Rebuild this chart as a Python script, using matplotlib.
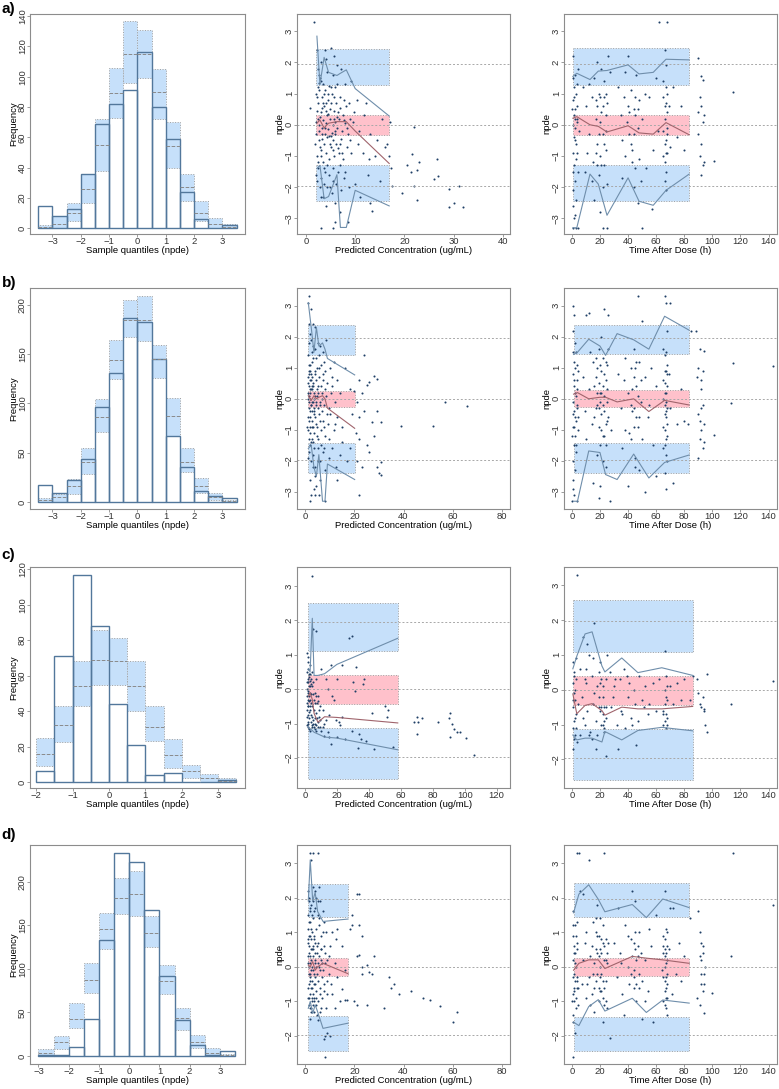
import numpy as np
import matplotlib.pyplot as plt

plt.rcParams['font.family'] = ['Liberation Sans', 'DejaVu Sans']

BLUE = '#c6e0fa'
PINK = '#ffc1cb'
EDGE = '#a0a0a0'
BAR = '#52779b'
DOT = '#1f3f66'
PLINE = '#6f8eab'
MLINE = '#a0646c'

# ---- histogram data (bins of 0.5) ----
a_start = -3.5
a_obs = [15, 8, 13, 36, 69, 82, 91, 116, 80, 59, 24, 6, 0, 2]
a_q05 = [0, 0, 4.6, 17, 38, 73, 96, 99, 72, 40, 18, 5, 0, 0]
a_q50 = [1, 3, 10, 26, 55, 89, 115, 115, 90, 54, 27, 10, 3, 1]
a_q95 = [2.2, 8.3, 16.6, 36, 72, 106, 137, 131, 105, 70, 36, 18, 6.6, 3]

b_start = -3.5
b_obs = [17, 9, 22, 44, 96, 131, 187, 183, 145, 67, 36, 11, 6, 4]
b_q05 = [0, 0, 8, 28, 71, 125, 167, 163, 126, 67, 31, 9, 2, 0]
b_q50 = [2, 5, 16, 41, 86, 144, 185, 185, 145, 87, 41, 16, 5, 1]
b_q95 = [4, 8, 23, 55, 105, 164, 205, 209, 159, 106, 55, 24, 9, 2.3]

c_start = -2.0
c_obs = [6, 71, 117, 88, 44, 21, 4, 5, 0, 0, 1]
c_q05 = [9, 22.7, 43, 55, 54.6, 40, 23, 8, 2, 0, 0]
c_q50 = [16, 32, 54, 69, 68, 54, 31, 15, 6, 2, 0.7]
c_q95 = [24.6, 42.6, 68, 86, 81, 68, 42.6, 24, 9.4, 4.5, 2]

d_start = -3.0
d_obs = [1, 1, 10, 42, 133, 233, 222, 167, 92, 41, 13, 1, 6]
d_q05 = [0, 8, 32, 72, 123, 163, 160, 125, 71.5, 30, 9, 1, 0]
d_q50 = [3, 16, 42, 87.5, 145.6, 181, 186, 141.5, 86, 43, 16, 3.7, 1]
d_q95 = [8, 23, 61, 106.5, 163.5, 204, 212.7, 160, 104, 55, 24, 9.3, 2.6]

# ---- npde vs predictions / time: prediction bands [lo_lo, lo_hi, med_lo, med_hi, hi_lo, hi_hi] ----
a2_bx = [2.1, 16.9]
a2_bands = [-2.45, -1.28, -0.34, 0.32, 1.26, 2.44]
a2_kx = [2.24, 2.85, 3.7, 4.6, 6.3, 7.0, 8.2, 10.0, 16.9]
a2_p95 = [2.84, 1.29, 2.16, 1.68, 1.58, 1.65, 1.76, 1.16, 0.28]
a2_p50 = [0.05, 0.15, -0.1, 0.05, 0.1, 0.1, 0.1, -0.2, -1.24]
a2_p05 = [-1.4, -1.3, -2.37, -2.3, -1.6, -3.29, -3.29, -2.1, -2.6]
a2_pts = [(1.7, 3.3), (2.2, 2.4), (2.5, 1.8), (2.8, 1.5), (3.1, 2.0), (3.4, 1.3), (3.9, 2.4), (4.3, 1.7),
          (5.1, 2.45), (5.6, 1.6), (6.3, 1.9), (7.2, 1.8), (8.0, 1.3), (9.2, 1.4), (2.0, 1.0), (2.4, 0.7),
          (2.7, 1.1), (3.0, 0.4), (3.3, 0.9), (3.6, 0.6), (3.9, 1.1), (4.2, 0.3), (4.5, 0.8), (4.9, 0.5),
          (5.3, 1.0), (5.7, 0.2), (6.1, 0.7), (6.5, 0.4), (7.0, 0.9), (7.5, 0.3), (8.2, 0.6), (9.0, 0.2),
          (10.3, 0.8), (12.2, 0.7), (0.9, 0.55), (2.1, 0.1), (2.6, -0.2), (2.9, 0.25), (3.2, -0.1),
          (3.5, 0.15), (3.8, -0.3), (4.1, 0.05), (4.4, -0.15), (4.8, 0.2), (5.2, -0.25), (5.5, 0.0),
          (5.9, 0.1), (6.4, -0.1), (6.8, 0.2), (7.3, -0.2), (7.9, 0.05), (8.6, -0.3), (9.5, 0.1),
          (1.9, -0.6), (2.3, -1.0), (2.7, -0.5), (3.0, -0.8), (3.4, -1.2), (3.7, -0.6), (4.0, -0.9),
          (4.3, -0.4), (4.7, -1.1), (5.0, -0.7), (5.4, -0.5), (5.8, -1.0), (6.2, -0.6), (6.7, -0.9),
          (7.1, -0.45), (7.6, -1.1), (8.3, -0.7), (9.1, -0.9), (10.5, -0.6), (11.5, -0.9), (13.0, -0.3),
          (16.0, -0.7), (16.5, -0.6), (14.0, -1.0), (2.0, -1.6), (2.4, -1.4), (2.8, -2.0), (3.1, -1.7),
          (3.5, -2.3), (3.9, -1.5), (4.3, -2.0), (4.7, -1.6), (5.2, -2.2), (5.6, -1.8), (6.0, -2.5),
          (6.6, -1.5), (7.2, -2.1), (7.8, -1.7), (8.8, -2.0), (10.0, -1.9), (11.0, -2.3), (12.5, -1.6),
          (13.0, -2.5), (13.5, -2.75), (15.0, -1.8), (17.2, -1.4), (17.5, -1.95), (3.0, -3.3), (5.5, -3.3),
          (6.0, -3.1), (8.5, -3.1), (4.0, -2.6), (7.0, -2.8), (22.0, -0.08), (21.5, -0.95), (20.5, -1.3),
          (21.3, -1.5), (23.0, -1.2), (22.5, -1.45), (22.0, -1.95), (19.5, -2.2), (22.5, -2.4), (26.5, -1.1),
          (26.0, -1.75), (26.8, -1.65), (29.0, -2.05), (31.0, -1.95), (30.0, -2.5), (29.0, -2.65),
          (31.8, -2.65), (16.8, -1.0), (17.0, 0.1), (2.3, 0.45), (2.6, 1.35), (3.2, 0.55), (4.6, 1.25),
          (5.0, -0.35), (6.0, 1.2), (6.9, -1.3), (4.0, 0.7), (3.3, -0.45), (2.5, -1.2), (5.8, 0.45),
          (2.2, 0.9), (2.5, 0.2), (2.8, -0.7), (3.0, 1.4), (3.3, -0.3), (3.6, 1.0), (3.9, -0.1), (4.2, -1.3),
          (4.5, 0.35), (4.8, -0.6), (5.1, 0.7), (5.4, -1.4), (5.7, 0.9), (6.0, -0.3), (6.3, 0.25),
          (6.6, -0.75), (6.9, 0.55), (7.4, -0.9), (7.8, 0.8), (8.4, -0.1), (9.0, -0.5), (9.8, 0.4),
          (2.1, -0.3), (2.4, 1.2), (2.7, 0.0), (3.1, -1.0), (3.4, 0.7), (3.7, -1.4), (4.0, 0.45), (4.4, 1.0),
          (4.7, -0.35), (5.0, 1.2), (5.5, -0.8), (5.9, -0.2), (6.4, 1.3), (7.0, -0.6), (7.7, 0.15),
          (8.0, -1.5), (8.8, 0.7), (10.8, -0.2), (11.8, 0.3), (12.8, -1.1), (14.5, -0.5), (15.5, 0.2),
          (2.3, -1.8), (3.6, -1.9), (4.9, -2.0), (6.2, -1.9), (2.6, 1.6), (4.1, 2.1), (5.8, 2.2), (3.0, -2.3)]

a3_bx = [0.7, 83.5]
a3_bands = [-2.45, -1.28, -0.34, 0.32, 1.26, 2.45]
a3_kx = [0.7, 3.5, 12.9, 18.8, 25, 40, 47.8, 57.9, 67, 83.5]
a3_p95 = [1.55, 1.65, 1.45, 1.72, 1.74, 1.92, 1.63, 1.68, 2.1, 2.08]
a3_p50 = [0.21, 0.26, 0.0, -0.05, -0.23, -0.03, -0.26, -0.3, 0.07, -0.32]
a3_p05 = [-3.3, -3.3, -1.58, -1.9, -2.9, -1.7, -2.45, -2.58, -2.1, -1.58]
a3_pts = [(1, 2.2), (2, 1.6), (1.5, 1.2), (3, 1.0), (0.8, 0.8), (2.5, 0.5), (1.2, 0.3), (3.5, 0.2), (0.5, 0.0),
          (2.2, -0.1), (4, 0.1), (1.8, -0.4), (3.2, -0.6), (0.9, -0.9), (2.7, -1.1), (1.4, -1.3), (4.2, -1.5),
          (2, -1.8), (0.7, -2.1), (3, -2.4), (1, -2.6), (1.5, -3.0), (0.5, -3.3), (4.5, -3.3), (2.8, -3.3),
          (4.5, 1.8), (3.8, 0.6), (1.1, 1.5), (2.4, -2.9), (4.8, -0.2), (0.4, 0.5), (3.6, -0.9),
          (8, 1.2), (10, 0.6), (12, -0.3), (14, 0.9), (15, -1.2), (16, 1.5), (17, 0.2), (18, -0.6), (19, 1.0),
          (20, -1.0), (21, 0.4), (22, -0.3), (23, 1.4), (24, -0.8), (25, 0.7), (26, 2.2), (19, -1.6),
          (22, -2.0), (25, -1.9), (17, -0.9), (20, 0.1), (21, 1.8), (23, -1.3), (24, 0.3), (12, 1.3),
          (14, -1.8), (16, -2.4), (18, 2.0), (22, -3.3), (25, -3.3), (27, 1.7), (20, -2.8), (11, -0.9),
          (18, 0.6), (23, 0.9), (24, -0.2), (9, -1.5), (33, 1.2), (35, 0.3), (36, -0.5), (37, 0.9),
          (38, -1.0), (39, 0.1), (40, 2.2), (41, -0.3), (42, 1.1), (43, -0.8), (44, 0.5), (45, -1.4),
          (46, 1.6), (47, -0.1), (48, 0.8), (49, -1.8), (50, 0.2), (38, 1.7), (44, -2.0), (47, -2.5),
          (50, -3.3), (36, -1.7), (42, -0.6), (48, -1.1), (52, 1.0), (40, 0.6), (45, 0.3), (53, -1.4),
          (55, 0.9), (58, -0.8), (60, 1.5), (57, -2.7), (61, -0.2), (65, 1.4), (66, 0.2), (67, -0.5),
          (68, 1.0), (66, -1.2), (67, 0.7), (68, -0.9), (65, -0.2), (67, 1.9), (66, -1.8), (68, 0.4),
          (67, -1.5), (65, 0.9), (66, 2.4), (68, -0.1), (67, -2.1), (69, 0.6), (70, -0.7), (72, 1.2),
          (75, -0.4), (78, 0.6), (80, -0.8), (62, 3.3), (68, 3.3), (90, 2.15), (92, 1.55), (93, 1.45),
          (91, 0.9), (92, 0.6), (93, 0.1), (90, -0.3), (92, -0.6), (91, -1.0), (93, -1.3), (94, -1.2),
          (92, -1.6), (90, 0.4), (94, 0.3), (101, -1.15), (115, 1.05),
          (1.5, 0.9), (2.5, -0.5), (0.7, -1.5), (3.3, 1.3), (2.0, 0.2), (17, 0.8), (19, -0.3), (20, 0.9),
          (21, -1.3), (22, 0.6), (23, -0.6), (18, -1.3), (24, 1.0), (41, 0.4), (43, -1.2), (45, 0.9),
          (47, 0.5), (44, -0.3), (66, 0.6), (67, -0.9), (68, -0.3), (66, -0.6), (67, 1.2), (65, -1.0)]

b2_bx = [1.2, 20.1]
b2_bands = [-2.38, -1.42, -0.25, 0.26, 1.42, 2.37]
b2_kx = [1.2, 2.4, 3.5, 4.5, 5.5, 7.0, 8.0, 9.0, 20.1]
b2_p95 = [3.1, 2.3, 1.5, 2.3, 1.7, 1.8, 1.6, 1.3, 0.77]
b2_p50 = [0.1, -0.05, 0.1, 0.0, 0.05, 0.1, 0.0, -0.3, -0.95]
b2_p05 = [-1.6, -1.5, -2.2, -2.5, -1.8, -3.3, -3.3, -2.1, -2.6]
b2_pts = [(1.5, 3.3), (1.2, 3.1), (2.5, 2.9), (3, 2.4), (4, 2.3), (1.8, 2.1), (2.3, 1.9), (3.5, 1.6), (5, 1.8),
          (6, 1.7), (7, 1.5), (1, 1.4), (8.5, 1.9), (4.5, 1.3), (1.3, 1.1), (2.1, 0.9), (2.9, 1.2), (3.8, 0.8),
          (4.6, 1.0), (5.5, 0.7), (6.3, 1.1), (7.2, 0.6), (8, 0.9), (9, 0.5), (10, 1.0), (11, 0.7), (13, 0.6),
          (1.7, 0.6), (2.6, 0.4), (3.3, 0.5), (1.1, 0.2), (1.9, 0.0), (2.4, 0.3), (3.1, -0.1), (3.7, 0.2),
          (4.2, -0.2), (4.9, 0.1), (5.8, -0.1), (6.6, 0.2), (7.5, -0.2), (8.3, 0.1), (9.5, -0.3), (10.5, 0.2),
          (12, -0.1), (14, 0.2), (1.4, -0.3), (2.8, -0.4), (1.2, -0.6), (2.0, -0.9), (2.7, -0.7), (3.4, -1.1),
          (4.0, -0.6), (4.8, -0.9), (5.6, -0.5), (6.4, -1.0), (7.3, -0.7), (8.2, -1.2), (9.2, -0.8),
          (10.2, -0.5), (11.5, -1.0), (13, -0.6), (15, -0.9), (1.6, -1.3), (3.0, -1.4), (5.2, -1.3),
          (0.8, -0.9), (1.3, -1.7), (2.2, -2.0), (3.2, -1.8), (4.1, -2.2), (5.0, -1.6), (6.0, -2.0),
          (7.0, -1.7), (8.0, -2.3), (9.5, -1.9), (11, -1.6), (12.5, -2.2), (14, -1.8), (17, -2.0), (18, -1.6),
          (2, -2.6), (3.5, -2.9), (4.5, -2.8), (6, -2.6), (2.5, -3.1), (4, -3.1), (8, -3.3), (1.8, -3.3),
          (5.5, -3.1), (13, -2.6), (22, 0.6), (24, 1.4), (28, 0.75), (29, 0.65), (26, 0.55), (25, 0.45),
          (21, -0.1), (20, 0.25), (22, -0.6), (23, 0.2), (24, -0.4), (27, -0.75), (29, -0.4), (31, -0.75),
          (20.5, -1.1), (22, -1.3), (25, -1.5), (26, -1.7), (28, -1.2), (23, -2.2), (29, -2.2), (30, -2.4),
          (31, -2.45), (22, -3.1), (31, -2.05), (21, -2.0), (57, -0.1), (66, -0.22), (39, -0.87), (52, -0.87),
          (16, 1.0), (18, 0.3), (19, -0.5), (15, -1.4), (1.6, 0.8), (2.2, -0.2), (3.6, -0.3), (1.5, 0.4),
          (2.9, 0.7), (1.9, -1.1), (4.4, 0.6), (3.2, 1.7), (1.4, 1.8), (2.0, 0.3), (2.6, -1.3), (5.2, 0.4),
          (1.0, 0.5), (1.3, -0.1), (1.6, 0.1), (1.9, -0.6), (2.2, 0.6), (2.5, -0.2), (2.8, 0.3), (3.1, -0.9),
          (3.4, 0.0), (3.7, -0.4), (4.0, 0.9), (4.3, -0.8), (4.7, 0.3), (5.0, -0.3), (5.4, 1.0), (5.8, -0.7),
          (6.2, 0.4), (6.7, -0.4), (7.1, 0.8), (7.6, -0.9), (8.1, 0.3), (8.8, -0.5), (1.1, -1.0), (1.4, 0.9),
          (1.7, -1.5), (2.0, 1.1), (2.3, -1.4), (2.7, 1.5), (3.0, -2.2), (3.3, 1.3), (3.6, -1.6), (4.1, 1.6),
          (4.6, -1.2), (5.1, -2.0), (5.7, 1.4), (6.5, -1.5), (7.4, 1.2), (9.8, -1.3), (10.8, 0.4),
          (12.2, -0.8), (0.9, 0.0), (1.2, 0.7), (1.5, -0.7), (1.8, 0.2), (2.1, -0.4), (2.4, 0.8), (2.6, -0.9),
          (2.9, -0.1), (3.2, 0.4), (3.5, -0.5), (3.9, 0.1), (4.4, -0.1), (5.3, 0.2), (6.0, -0.2), (6.9, 0.0),
          (1.0, -1.9), (1.5, 2.4), (3.8, -2.5), (7.8, -1.6), (11.5, 1.2)]

b3_bx = [1.2, 83.5]
b3_bands = [-2.38, -1.42, -0.25, 0.27, 1.44, 2.37]
b3_kx = [1.2, 4, 12, 20, 24, 32.2, 44, 54.8, 66, 83.5]
b3_p95 = [1.43, 1.5, 1.92, 1.7, 1.4, 2.1, 1.9, 1.6, 2.66, 2.21]
b3_p50 = [0.15, 0.2, 0.0, 0.05, 0.05, -0.1, 0.0, -0.41, -0.05, -0.2]
b3_p05 = [-3.3, -3.3, -1.68, -1.73, -2.44, -2.6, -1.78, -2.55, -2.05, -1.81]
b3_pts = [(1, 3.0), (1.5, 2.7), (0.8, 2.2), (2, 1.8), (3, 1.5), (1.2, 1.2), (2.5, 1.0), (0.6, 0.8), (3.5, 0.6),
          (1.8, 0.4), (2.8, 0.1), (0.5, -0.1), (4, -0.2), (1.5, -0.4), (3.2, -0.7), (0.9, -0.9), (2.2, -1.2),
          (4.2, -1.0), (1.3, -1.5), (3, -1.7), (0.7, -2.0), (2.5, -2.3), (1.0, -2.6), (0.5, -2.9), (1.5, -3.1),
          (0.3, -3.3), (3.5, -3.3), (4.5, 0.9), (2, -0.6), (3.8, 0.3), (10, 2.7), (12, 2.75), (15, 1.2),
          (16, 0.4), (17, -0.3), (18, 1.0), (19, -0.9), (20, 0.2), (21, -0.5), (22, 1.3), (23, -1.2),
          (24, 0.6), (25, -0.1), (19, 1.6), (20, -1.5), (22, -2.0), (24, -0.8), (17, 0.7), (18, -1.8),
          (21, 0.9), (23, 0.1), (25, 1.1), (26, -0.6), (14, -0.8), (12, 0.3), (10, -1.3), (8, 0.7),
          (20, -2.8), (23, 2.9), (26, 2.7), (24, -2.2), (15, -2.7), (19, -3.2), (27, -3.3), (21, 2.0),
          (22, -0.2), (13, 1.5), (9, -0.4), (26, 1.6), (28, -1.0), (33, 0.8), (35, -0.3), (37, 0.6),
          (38, -1.0), (40, 0.2), (41, -1.1), (42, 1.0), (43, -0.4), (44, 1.6), (45, -1.9), (46, 0.4),
          (47, -0.9), (48, 1.2), (49, -0.1), (50, -1.3), (52, 0.7), (54, -0.6), (56, 1.0), (58, -1.5),
          (60, 0.4), (47, 3.3), (50, 2.5), (45, -2.2), (52, -3.0), (40, -2.8), (44, -0.9), (38, 1.3),
          (48, -2.3), (36, -1.6), (55, -0.2), (42, -0.2), (60, -2.5), (65, 1.6), (66, 0.5), (67, -0.4),
          (68, 1.1), (66, -1.0), (67, 0.2), (68, -0.8), (65, -1.6), (67, 0.9), (66, -0.2), (68, 0.4),
          (67, -1.3), (65, 0.0), (66, 3.3), (67, 3.1), (70, 3.1), (68, -2.0), (67, -0.6), (66, 1.4),
          (69, 0.8), (70, -0.3), (72, -2.7), (75, -0.8), (78, 0.3), (80, -0.7), (83, -0.8), (85, 2.2),
          (68, 2.2), (66, -2.4), (67, -2.9), (88, 2.2), (90, 1.0), (91, 1.6), (92, 0.6), (93, -0.2),
          (90, -0.5), (92, -1.0), (91, -1.3), (93, -1.6), (94, -0.8), (92, 0.3), (90, -1.9), (94, 1.55),
          (101, -1.15), (113, -0.15), (115, 1.15), (143, 1.05), (89, 0.7),
          (0.5, 1.5), (1.2, 0.6), (2.2, 0.2), (3.3, -0.3), (0.8, -0.5), (1.7, -0.9), (2.7, -1.5), (3.8, 1.1),
          (0.4, -1.2), (4.3, -0.6), (16, -0.6), (17, 1.3), (18, -0.2), (19, 0.5), (20, 1.1), (21, -1.0),
          (22, 0.4), (23, -0.4), (24, 1.2), (25, -0.7), (19, -0.3), (21, 0.2), (23, 0.8), (25, 0.3),
          (20, -0.1), (22, -1.2), (24, -1.5), (18, 0.2), (43, 0.3), (44, -0.3), (45, 1.0), (46, -0.6),
          (47, 0.1), (48, -0.6), (44, 0.7), (46, 1.2), (42, -1.3), (49, 0.6), (65, 0.6), (66, -0.5),
          (67, -0.1), (68, -0.3), (66, 0.9), (67, 1.5), (68, -1.2), (65, -0.9), (67, -1.8), (66, 0.2),
          (68, 0.8), (66, -1.5), (92, -0.3), (93, 0.9), (91, -0.7), (94, -1.4)]

c2_bx = [1.7, 58]
c2_bands = [-2.62, -1.13, -0.42, 0.4, 1.1, 2.5]
c2_kx = [2, 3, 4.4, 5.5, 7.9, 12.1, 19.8, 58]
c2_p95 = [0.6, 0.5, 2.06, 0.4, 0.4, 0.45, 0.72, 1.48]
c2_p50 = [-0.2, -0.1, -0.3, -0.7, -0.96, -0.8, -0.82, -0.98]
c2_p05 = [-1.1, -1.15, -1.2, -1.25, -1.3, -1.39, -1.42, -1.76]
c2_pts = [(4.5, 3.3), (5, 1.75), (7, 1.7), (27.5, 1.5), (29, 1.55), (1, 1.05), (1.5, 0.95), (2, 0.8), (3, 0.7),
          (1.2, 0.5), (2.5, 0.45), (3.5, 0.3), (1.8, 0.2), (2.8, 0.1), (1.4, -0.05), (2.2, -0.2), (3.2, -0.3),
          (1.1, -0.4), (2, -0.5), (3, -0.6), (1.6, -0.75), (2.6, -0.85), (3.6, -0.95), (1.3, -1.05),
          (2.3, -1.15), (4, -1.1), (5, -1.0), (6, -0.85), (7, -1.05), (8, -0.95), (9, -1.1), (10, -1.2),
          (4.5, -0.5), (5.5, -0.3), (6.5, -0.7), (7.5, -0.4), (8.5, -0.8), (5, 0.2), (6, -0.1), (7, 0.3),
          (8, -0.2), (9, -0.5), (11, -0.6), (12, -1.0), (13, -0.9), (14, -1.25), (12, -1.35), (15, -1.4),
          (4, 0.5), (3, -1.2), (2, -0.95), (1, -0.2), (1.5, 0.3), (2.5, -0.35), (3.5, -0.15), (6, -1.15),
          (1.2, -0.6), (1.7, -0.3), (2.4, 0.1), (1.9, -1.0), (3.3, -0.75), (2.7, 0.25), (4.2, -0.8),
          (10, 0.6), (16, 0.7), (13, 0.3), (14, 0.0), (17, -0.2), (18, -0.3), (20, 0.3), (15, -0.75),
          (19, -0.9), (21, -0.95), (22, -1.05), (23, -0.8), (16, -1.6), (20, -1.4), (23, 0.7), (25, -1.45),
          (29, -1.2), (30, 0.2), (31, -0.05), (32, 0.65), (33, -1.7), (34, -1.3), (35, -1.45), (37, 0.3),
          (36, 0.15), (38, -1.5), (42, -0.7), (43, -1.75), (50, -0.5), (52, -0.6), (55, -1.68), (51, -0.8),
          (68, -0.95), (70, -0.8), (71, -0.95), (70, -1.3), (73, -0.85), (83, -0.95), (90, -0.85),
          (91, -0.7), (92, -1.0), (93, -1.15), (91, -1.38), (95, -1.25), (97, -1.25), (101, -1.42),
          (106, -1.9),
          (1.3, 0.2), (1.6, -0.5), (2.1, 0.35), (2.4, -0.65), (2.9, -0.1), (3.4, 0.15), (3.8, -0.4),
          (4.3, 0.1), (4.8, -0.9), (5.3, -0.6), (5.8, -0.4), (6.3, -1.0), (6.8, -0.2), (7.3, -0.85),
          (7.8, -1.1), (8.3, -0.6), (9.5, -0.9), (1.1, -0.8), (1.4, 0.6), (1.9, -0.1), (2.7, -0.5),
          (3.1, 0.45), (3.9, -1.05), (4.6, -0.15), (5.2, -1.1), (6.6, -1.2), (7.9, -0.35), (11, -1.1),
          (1.0, 0.0), (2.0, -1.1)]

c3_bx = [0.7, 85.9]
c3_bands = [-2.58, -1.14, -0.45, 0.39, 1.08, 2.57]
c3_kx = [0.7, 3.5, 9.4, 14.4, 21.4, 23.5, 35.5, 47, 64, 86]
c3_p95 = [0.6, 0.96, 1.6, 1.66, 0.68, 0.51, 0.91, 0.49, 0.63, 0.41]
c3_p50 = [-0.12, -0.69, -0.45, -0.4, -0.6, -0.73, -0.5, -0.55, -0.55, -0.48]
c3_p05 = [-1.3, -1.44, -1.39, -1.39, -1.5, -1.2, -1.44, -1.17, -1.08, -1.18]
c3_pts = [(1, 0.8), (1.5, 0.5), (0.7, 0.2), (2, 0.0), (1.2, -0.1), (2.5, -0.3), (0.5, -0.5), (3, -0.7),
          (1.8, -0.9), (0.9, -1.1), (2.2, -1.3), (3.5, -1.5), (1, -1.7), (4, 3.3), (3, 0.9), (4.5, -0.4),
          (1.5, -1.4), (2.8, 0.3), (6, 0.6), (7, -0.2), (8, 1.5), (9, -1.0), (10, 0.2), (11, -0.6), (12, 1.0),
          (13, -1.2), (14, 0.4), (15, -0.4), (16, 1.9), (17, -0.9), (18, 0.1), (19, -0.5), (20, 0.8),
          (21, -1.0), (22, -0.2), (23, -0.9), (24, -1.9), (22, -0.7), (23, -1.1), (24, 0.3), (20, -0.6),
          (18, -1.3), (16, -0.1), (14, -1.4), (12, -1.3), (10, 0.6), (8, -0.8), (6, -1.3), (25, 1.0),
          (21, 0.3), (23, -0.5), (17, -1.7), (11, 1.3), (9, 0.3), (15, 0.9), (19, 0.5), (24, -0.8),
          (22, -1.0), (27, 0.5), (28, -0.5), (30, 0.1), (32, -1.0), (33, -1.7), (34, 0.3), (36, -0.7),
          (37, 0.6), (38, -1.1), (40, -0.2), (41, 0.2), (42, -0.8), (44, 0.0), (45, -0.4), (46, -1.6),
          (48, 0.4), (50, -0.3), (52, 0.1), (54, -0.7), (29, -0.2), (31, 0.3), (35, -0.6), (39, 0.4),
          (43, -1.0), (47, -0.9), (51, -0.5), (55, -0.4), (58, 0.2), (60, -0.6), (62, 0.3), (65, -0.6),
          (66, -0.9), (67, 0.4), (68, -0.8), (66, 0.0), (67, -1.1), (68, -0.3), (65, -0.7), (66, 1.1),
          (67, -0.2), (68, -1.0), (70, 0.1), (72, -0.4), (75, 0.2), (78, -0.3), (80, 0.3), (84, -0.3),
          (86, 0.4), (89, 0.3), (90, -0.1), (91, -0.4), (92, -0.5), (93, -0.2), (94, -0.6), (95, -1.0),
          (96, -1.2), (96, 0.45), (94, -0.55), (113, -0.42), (143, 0.25),
          (1.2, 0.4), (2.4, -0.8), (0.9, -0.3), (3.2, -1.1), (19, -0.2), (21, -0.5), (22, 0.1), (23, -1.2),
          (20, 0.2), (24, -0.5), (66, -0.4), (67, -0.7), (65, -1.0), (68, 0.1)]

d2_bx = [1.1, 17.4]
d2_bands = [-2.42, -1.43, -0.27, 0.24, 1.44, 2.38]
d2_kx = [1.2, 2.0, 3.0, 4.0, 5.0, 7.2, 17.4]
d2_p95 = [1.9, 3.09, 1.9, 2.15, 1.6, 1.31, 1.38]
d2_p50 = [0.05, 0.0, 0.15, -0.1, 0.0, 0.1, -0.2]
d2_p05 = [-1.2, -1.0, -1.35, -1.1, -1.3, -1.78, -1.63]
d2_pts = [(2, 3.3), (3, 3.3), (5, 3.3), (2.5, 3.1), (3, 2.3), (4, 2.2), (5.5, 2.3), (1.5, 2.0), (2.5, 1.8),
          (3.5, 1.6), (4.5, 2.0), (6, 1.9), (1.2, 1.5), (2, 1.3), (3.2, 1.4), (5, 1.5), (7, 1.6), (1, 1.1),
          (1.8, 0.9), (2.6, 1.0), (3.5, 0.8), (4.3, 1.1), (5.2, 0.7), (6.2, 0.9), (7.5, 0.6), (8.5, 1.0),
          (1.4, 0.6), (2.2, 0.5), (3, 0.6), (4, 0.4), (5.5, 0.3), (6.5, 0.5), (1.1, 0.3), (1.7, 0.1),
          (2.4, 0.2), (3.1, -0.1), (3.8, 0.1), (4.6, -0.2), (5.4, 0.0), (6.3, 0.2), (7.2, -0.1), (8.2, 0.1),
          (9.5, -0.2), (1.3, -0.2), (2.0, -0.3), (2.9, -0.4), (4.0, -0.3), (1.2, -0.6), (1.9, -0.8),
          (2.7, -0.6), (3.4, -0.9), (4.2, -0.7), (5.0, -1.0), (5.9, -0.6), (6.8, -0.9), (7.7, -0.5),
          (8.8, -0.8), (1.5, -1.1), (2.5, -1.2), (3.5, -1.3), (4.5, -1.1), (6, -1.3), (2, -1.5), (5, -1.55),
          (9, -1.9), (8, -2.0), (7.5, -2.1), (10, -2.0), (8, -2.6), (12, -1.2), (14, -1.0), (11, -0.8),
          (13, -0.3), (12, 0.1), (10, 0.6), (9, 0.2), (11, 1.0), (13, 1.1), (15, 0.6), (16, -0.1),
          (15, -0.65), (16, -0.95), (17, -0.95), (18, 1.1), (19, 1.2), (19, 1.5), (21, 2.1), (22, 2.1),
          (22, 1.2), (23, 0.9), (21, 0.3), (22, 0.35), (23, 0.0), (25, 0.05), (26, -0.15), (27, -0.2),
          (28, 0.3), (20, -1.0), (21, -1.1), (25, -1.1), (23, -0.2), (34, -0.3), (35, -0.6), (36, -0.5),
          (38, -0.8), (43, -0.7), (32, -1.2), (48, -0.9), (51, -0.95), (55, -1.12), (60, -1.6), (62, -1.3),
          (1.6, 0.4), (2.3, -0.1), (3.3, 0.3), (1.9, 1.6), (2.8, -0.9), (3.9, -0.5), (1.4, -0.9), (4.8, 0.6),
          (1.0, 0.8), (1.3, 0.0), (1.6, 0.9), (1.9, -0.4), (2.2, 1.1), (2.5, -0.6), (2.8, 0.5), (3.1, -0.8),
          (3.4, 0.9), (3.7, -0.2), (4.0, 0.7), (4.3, -0.9), (4.7, 0.4), (5.0, -0.4), (5.4, 1.2), (5.8, -0.8),
          (6.2, 0.5), (6.7, -0.3), (7.1, 1.0), (7.6, -0.7), (8.1, 0.4), (8.8, -0.4), (1.1, -0.9), (1.4, 1.3),
          (1.7, -1.2), (2.0, 1.7), (2.3, -1.3), (2.7, 1.5), (3.0, -1.1), (3.3, 1.9), (3.6, -1.0), (4.1, 1.7),
          (4.6, -1.4), (5.1, 1.9), (5.7, 1.4), (6.5, -1.2), (7.4, 1.3), (0.9, 0.1), (1.2, 0.7), (1.5, -0.5),
          (1.8, 0.3), (2.1, -0.2), (2.4, 0.8), (2.6, -1.0), (2.9, 0.0), (3.2, 0.5), (3.5, -0.5), (3.9, 0.2),
          (4.4, 0.0), (5.3, 0.1), (6.0, -0.1), (6.9, 0.1), (1.0, 2.2), (1.3, 1.9), (9.8, 0.3), (10.5, -0.5),
          (12.5, 0.8), (8.5, -1.2)]

d3_bx = [1.2, 83.5]
d3_bands = [-2.43, -1.45, -0.26, 0.25, 1.43, 2.43]
d3_kx = [1.2, 5, 12, 18.8, 23.5, 43, 53, 64.7, 83.5]
d3_p95 = [1.56, 2.1, 2.37, 1.95, 1.59, 1.8, 1.42, 1.96, 1.71]
d3_p50 = [-0.1, 0.1, 0.2, 0.2, -0.05, 0.3, 0.25, 0.2, 0.1]
d3_p05 = [-1.6, -1.7, -1.15, -0.95, -1.28, -0.91, -1.32, -0.96, -1.05]
d3_pts = [(1, 1.6), (2, 1.2), (0.8, 0.9), (1.5, 0.6), (2.5, 0.4), (0.5, 0.2), (3, 0.0), (1.2, -0.2), (2.2, -0.4),
          (3.5, -0.6), (0.7, -0.8), (1.8, -1.0), (2.8, -1.2), (4, -0.3), (1, -1.4), (0.5, -1.6), (2, -1.9),
          (0.5, -2.6), (4, 3.3), (5, 3.3), (3, 0.9), (4, 1.3), (1.5, -0.6), (3.5, 0.5), (4.5, -1.1),
          (6, 2.2), (8, 2.1), (10, 1.0), (11, -0.5), (12, 3.1), (13, 0.3), (14, -0.8), (15, 1.3), (16, 0.1),
          (17, -0.4), (18, 0.9), (19, -1.0), (20, 0.5), (21, -0.2), (22, 1.2), (23, -0.6), (24, 0.2),
          (25, -1.2), (26, 0.7), (18, 1.8), (20, -0.7), (22, -0.4), (24, 0.8), (16, -1.3), (14, 0.6),
          (12, -0.3), (10, -0.9), (8, 0.2), (23, 3.3), (22, -1.6), (27, -2.05), (19, 0.3), (21, 0.8),
          (23, -1.1), (25, 0.4), (17, 1.0), (15, -0.2), (13, -1.1), (9, 0.7), (7, -0.5), (20, 1.4),
          (30, 0.7), (32, -0.3), (34, 0.4), (36, -0.8), (38, 1.2), (40, 0.0), (41, -0.5), (42, 0.8),
          (43, 2.2), (44, -0.1), (45, 0.5), (46, -1.0), (47, 0.3), (48, 1.0), (50, -0.4), (52, 0.2),
          (54, -0.7), (56, 0.6), (58, -1.6), (60, 1.5), (33, 1.7), (37, -1.4), (45, 1.9), (50, -1.5),
          (55, 1.1), (40, 0.9), (44, -0.6), (48, -0.2), (35, 0.1), (52, -1.0), (65, 0.9), (66, 0.3),
          (67, -0.3), (68, 0.6), (66, -0.7), (67, 0.1), (68, -0.5), (65, -1.0), (67, 1.1), (66, 0.0),
          (68, 0.2), (67, -0.9), (65, 0.4), (66, 2.2), (68, -1.4), (70, 1.7), (72, 1.7), (71, -0.8),
          (74, -0.2), (76, 0.7), (78, -0.4), (80, 0.3), (84, 1.4), (64, -0.1), (69, 0.5), (89, -0.9),
          (90, 1.6), (91, 1.0), (92, 0.7), (93, 0.4), (94, -0.2), (92, -0.5), (93, -0.7), (91, -1.1),
          (94, -1.35), (92, 0.2), (95, 0.0), (100, -0.75), (113, 0.3), (115, 3.3), (143, 1.8),
          (0.5, 1.2), (1.2, 0.4), (2.2, 0.1), (3.3, -0.4), (0.8, -0.3), (1.7, -0.7), (2.7, -0.9), (3.8, 0.7),
          (0.4, -1.0), (4.3, -0.6), (16, -0.6), (17, 0.5), (18, -0.2), (19, 0.9), (20, -0.3), (21, 0.4),
          (22, -0.9), (23, 0.6), (24, -0.4), (25, 0.1), (19, -0.6), (21, -0.7), (23, 0.2), (18, 0.4),
          (20, 0.0), (22, 0.7), (24, -1.0), (17, 1.4), (43, 0.3), (44, -0.3), (45, 1.0), (46, -0.5),
          (47, 0.6), (48, -0.6), (44, 0.7), (46, 0.2), (42, -0.2), (49, 0.4), (65, 0.6), (66, -0.4),
          (67, -0.6), (68, -0.2), (66, 0.8), (67, 0.4), (68, -0.9), (65, -0.3), (67, -1.2), (66, 0.5),
          (68, 1.0), (66, -1.1), (92, -0.2), (93, 0.6), (91, 0.3), (94, -0.5)]

FS = 6.8


def style(ax):
    for s in ax.spines.values():
        s.set_color('#8c8c8c')
        s.set_linewidth(0.8)
    ax.tick_params(direction='out', length=2, width=0.6, color='#8c8c8c',
                   labelsize=FS, pad=0.3, labelcolor='#333333')
    for lab in ax.get_yticklabels():
        lab.set_rotation(90)
        lab.set_va('center')


def hist_panel(ax, start, obs, q05, q50, q95, xlim, ylim, xticks, yticks):
    left = start + 0.5 * np.arange(len(obs))
    ax.bar(left, np.subtract(q95, q05), width=0.5, bottom=q05, align='edge',
           color=BLUE, edgecolor=EDGE, linestyle=':', linewidth=0.7)
    ax.hlines(q50, left, left + 0.5, colors='#8a8a8a', linestyles='--', linewidth=0.7)
    ax.bar(left, obs, width=0.5, align='edge', fill=False, edgecolor=BAR, linewidth=1.0)
    ax.set_xlim(xlim)
    ax.set_ylim(ylim)
    ax.set_xticks(xticks)
    ax.set_yticks(yticks)
    ax.set_xlabel('Sample quantiles (npde)', fontsize=FS, labelpad=0)
    ax.set_ylabel('Frequency', fontsize=FS, labelpad=0)
    style(ax)


def npde_panel(ax, pts, bx, bands, kx, p05, p50, p95, xlim, ylim, xticks, yticks, xlabel):
    cols = [BLUE, PINK, BLUE]
    for i in range(3):
        ax.fill_between(bx, bands[2 * i], bands[2 * i + 1], facecolor=cols[i],
                        edgecolor=EDGE, linestyle=':', linewidth=0.7)
    for h in (-1.96, 0, 1.96):
        ax.axhline(h, color='#a8a8a8', linestyle=(0, (2, 2)), linewidth=0.7)
    xy = np.array(pts)
    ax.scatter(xy[:, 0], xy[:, 1], s=2.2, color=DOT, linewidths=0)
    ax.plot(kx, p95, color=PLINE, linewidth=0.8)
    ax.plot(kx, p05, color=PLINE, linewidth=0.8)
    ax.plot(kx, p50, color=MLINE, linewidth=0.8)
    ax.set_xlim(xlim)
    ax.set_ylim(ylim)
    ax.set_xticks(xticks)
    ax.set_yticks(yticks)
    ax.set_xlabel(xlabel, fontsize=FS, labelpad=0)
    ax.set_ylabel('npde', fontsize=FS, labelpad=0)
    style(ax)


W, H = 779, 1089
fig = plt.figure(figsize=(W / 100, H / 100), dpi=100)

cols_px = [(30, 245), (297, 510), (564, 777)]
rows_px = [(14, 234), (288, 509), (567, 788), (845, 1064)]


def make_ax(r, c):
    l, rr = cols_px[c]
    t, b = rows_px[r]
    return fig.add_axes([l / W, 1 - b / H, (rr - l) / W, (b - t) / H])


conc = 'Predicted Concentration (ug/mL)'
tad = 'Time After Dose (h)'
tad_ticks = np.arange(0, 141, 20)
tad_lim = (-5.6, 146)
y6 = np.arange(-3, 4)
y5 = np.arange(-2, 4)

# row a
hist_panel(make_ax(0, 0), a_start, a_obs, a_q05, a_q50, a_q95, (-3.79, 3.8), (-3.7, 141.3),
           np.arange(-3, 4), np.arange(0, 141, 20))
npde_panel(make_ax(0, 1), a2_pts, a2_bx, a2_bands, a2_kx, a2_p05, a2_p50, a2_p95,
           (-1.8, 41.4), (-3.5, 3.55), np.arange(0, 41, 10), y6, conc)
npde_panel(make_ax(0, 2), a3_pts, a3_bx, a3_bands, a3_kx, a3_p05, a3_p50, a3_p95,
           tad_lim, (-3.5, 3.55), tad_ticks, y6, tad)

# row b
hist_panel(make_ax(1, 0), b_start, b_obs, b_q05, b_q50, b_q95, (-3.79, 3.8), (-7, 217),
           np.arange(-3, 4), np.arange(0, 201, 50))
npde_panel(make_ax(1, 1), b2_pts, b2_bx, b2_bands, b2_kx, b2_p05, b2_p50, b2_p95,
           (-3.4, 83.4), (-3.55, 3.57), np.arange(0, 81, 20), y6, conc)
npde_panel(make_ax(1, 2), b3_pts, b3_bx, b3_bands, b3_kx, b3_p05, b3_p50, b3_p95,
           tad_lim, (-3.55, 3.57), tad_ticks, y6, tad)

# row c
hist_panel(make_ax(2, 0), c_start, c_obs, c_q05, c_q50, c_q95, (-2.17, 3.74), (-3.4, 121.3),
           np.arange(-2, 4), np.arange(0, 121, 20))
npde_panel(make_ax(2, 1), c2_pts, c2_bx, c2_bands, c2_kx, c2_p05, c2_p50, c2_p95,
           (-5.2, 128.4), (-2.87, 3.55), np.arange(0, 121, 20), y5, conc)
npde_panel(make_ax(2, 2), c3_pts, c3_bx, c3_bands, c3_kx, c3_p05, c3_p50, c3_p95,
           tad_lim, (-2.82, 3.52), tad_ticks, y5, tad)

# row d
hist_panel(make_ax(3, 0), d_start, d_obs, d_q05, d_q50, d_q95, (-3.28, 3.83), (-9.3, 242),
           np.arange(-3, 4), np.arange(0, 201, 50))
npde_panel(make_ax(3, 1), d2_pts, d2_bx, d2_bands, d2_kx, d2_p05, d2_p50, d2_p95,
           (-3.4, 83.4), (-2.81, 3.52), np.arange(0, 81, 20), y5, conc)
npde_panel(make_ax(3, 2), d3_pts, d3_bx, d3_bands, d3_kx, d3_p05, d3_p50, d3_p95,
           tad_lim, (-2.81, 3.52), tad_ticks, y5, tad)

for lab, ypx in [('a)', 9), ('b)', 283), ('c)', 555), ('d)', 835)]:
    fig.text(0.002, 1 - ypx / H, lab, fontsize=11, fontweight='bold', va='center', ha='left')

fig.savefig('out.png', dpi=100)
